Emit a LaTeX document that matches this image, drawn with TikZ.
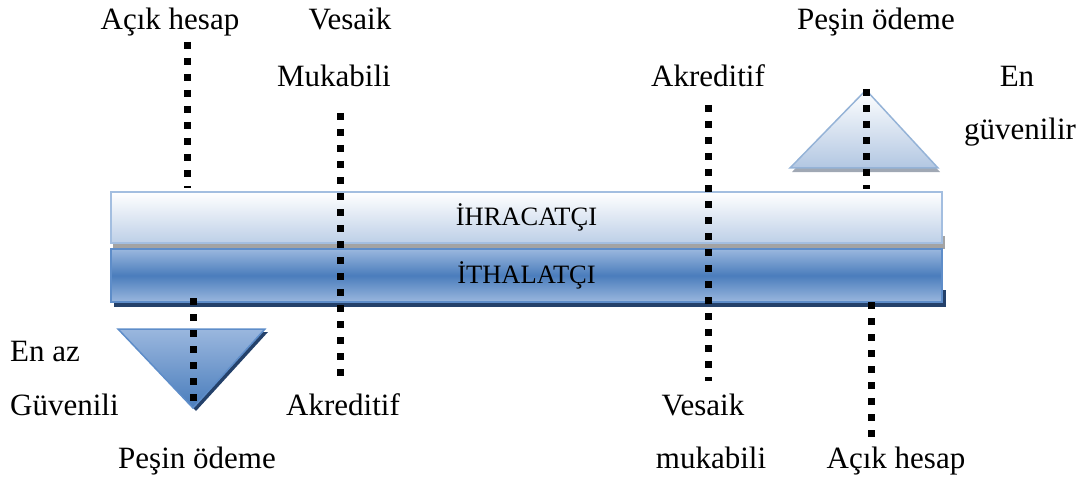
\documentclass[tikz,border=0pt]{standalone}
\usepackage{fontspec}
\setmainfont{Liberation Serif}
\definecolor{topedge}{HTML}{A3BEE0}
\definecolor{topbot}{HTML}{BDCFE7}
\definecolor{shadowgray}{HTML}{A3A3A3}
\definecolor{barlight}{HTML}{9AB7DE}
\definecolor{barmid}{HTML}{4A7DBC}
\definecolor{baredge}{HTML}{5E8DC9}
\definecolor{darkshadow}{HTML}{24416A}
\definecolor{triedge}{HTML}{95B3D7}
\definecolor{tribot}{HTML}{B2C7E2}
\definecolor{trishadow}{HTML}{A0A8B4}
\begin{document}
\begin{tikzpicture}[x=1pt,y=-1pt,
  lbl/.style={font=\fontsize{31}{37}\selectfont, anchor=base, inner sep=0pt},
  bartxt/.style={font=\fontsize{26.5}{30}\selectfont, inner sep=0pt},
  topbar/.style={rectangle, draw=topedge, line width=2.5pt, top color=white, bottom color=topbot,
    minimum width=831pt, minimum height=51pt, bartxt},
  lowbar/.style={rectangle, draw=baredge, line width=2.5pt, top color=barlight, bottom color=barlight, middle color=barmid,
    minimum width=831pt, minimum height=53pt, bartxt},
  dotline/.style={line width=7pt, dash pattern=on 7pt off 9pt, black},
]
\useasboundingbox (0,0) rectangle (1079,484);

% shadows of the bars
\fill[shadowgray] (113,236) rectangle (945,248.5);
\fill[darkshadow] (114,290) rectangle (946,306.5);

% bars
\node[topbar] (ihr) at (526.5,217.5) {İHRACATÇI};
\node[lowbar] (ith) at (526.5,275.5) {İTHALATÇI};

% up triangle (exporter, most secure)
\fill[trishadow] (868,95) -- (940,172) -- (792,172) -- cycle;
\shade[top color=white, bottom color=tribot, draw=triedge, line width=1.5pt]
  (866,90) -- (938,168) -- (790,168) -- cycle;

% down triangle (importer, least secure)
\fill[darkshadow] (121,332) -- (268,332) -- (196,411) -- cycle;
\shade[top color=barlight, bottom color=barmid, draw=baredge, line width=1.5pt]
  (118,329) -- (265,329) -- (193,408) -- cycle;

% labels
\node[lbl] (l1) at (170,30) {Açık hesap};
\node[lbl] (l2) at (350,30) {Vesaik};
\node[lbl] (l3) at (334,87) {Mukabili};
\node[lbl] (l4) at (876,30) {Peşin ödeme};
\node[lbl] (l5) at (708,87) {Akreditif};
\node[lbl] (l6) at (1017,87) {En};
\node[lbl] (l7) at (1020,140) {güvenilir};
\node[lbl, anchor=base west] (l8) at (10,361) {En az};
\node[lbl, anchor=base west] (l9) at (10,415) {Güvenili};
\node[lbl] (l10) at (343,415) {Akreditif};
\node[lbl] (l11) at (197,468) {Peşin ödeme};
\node[lbl] (l12) at (703,415) {Vesaik};
\node[lbl] (l13) at (711,468) {mukabili};
\node[lbl] (l14) at (896,468) {Açık hesap};

% dotted guide lines
\coordinate (d1a) at (187,42);  \coordinate (d1b) at (187,188);
\coordinate (d2a) at (340,113); \coordinate (d2b) at (340,381);
\coordinate (d3a) at (708,105); \coordinate (d3b) at (708,381);
\coordinate (d4a) at (866,89);  \coordinate (d4b) at (866,189);
\coordinate (d5a) at (193,298); \coordinate (d5b) at (193,406);
\coordinate (d6a) at (871,302); \coordinate (d6b) at (871,438);
\draw[dotline] (d1a) -- (d1b);
\draw[dotline] (d2a) -- (d2b);
\draw[dotline] (d3a) -- (d3b);
\draw[dotline] (d4a) -- (d4b);
\draw[dotline] (d5a) -- (d5b);
\draw[dotline] (d6a) -- (d6b);
\end{tikzpicture}
\end{document}
